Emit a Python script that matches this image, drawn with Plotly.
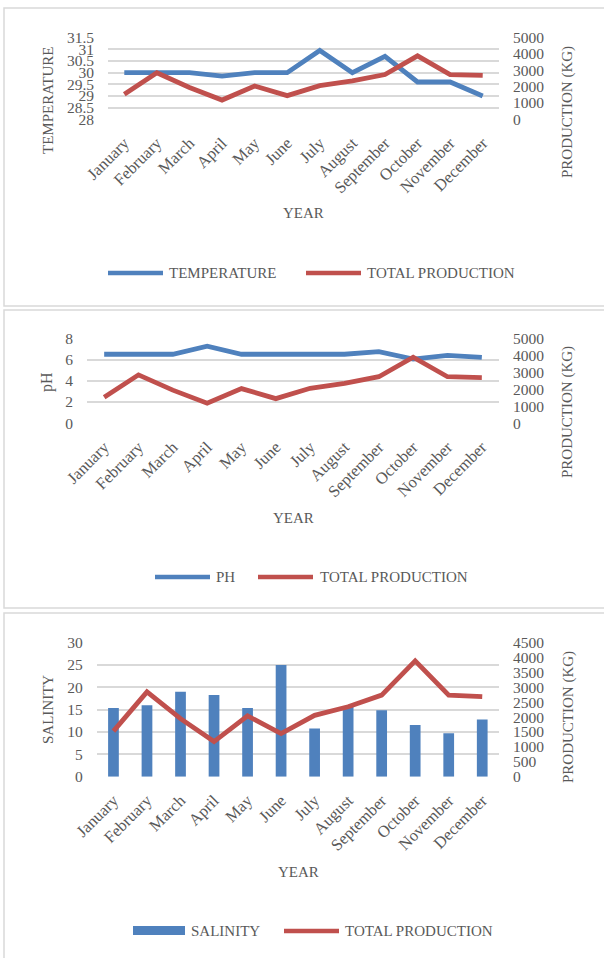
import plotly.graph_objects as go

# ---- data ----
months = ["January", "February", "March", "April", "May", "June", "July",
          "August", "September", "October", "November", "December"]
temperature = [30.0, 30.0, 30.0, 29.85, 30.0, 30.0, 30.95, 30.0, 30.7, 29.6, 29.6, 29.0]
ph = [6.5, 6.5, 6.5, 7.25, 6.5, 6.5, 6.45, 6.5, 6.75, 6.05, 6.4, 6.2]
salinity = [15.4, 16.0, 19.0, 18.3, 15.4, 25.0, 10.8, 15.6, 14.9, 11.6, 9.7, 12.8]
production = [1530, 2850, 1950, 1180, 2040, 1450, 2060, 2350, 2740, 3890, 2740, 2690]

W, H = 604, 958
BLUE = "#4F81BD"
RED = "#C0504D"
GRID = "#D9D9D9"
TXT = "#595959"
FONT = "Liberation Serif"


def px(x):
    return x / W


def py(y):
    return 1 - y / H


fig = go.Figure()

# Panel 1: temperature vs production
fig.add_trace(go.Scatter(x=months, y=temperature, mode="lines", name="TEMPERATURE",
                         line=dict(color=BLUE, width=4.8), xaxis="x", yaxis="y"))
fig.add_trace(go.Scatter(x=months, y=production, mode="lines", name="TOTAL PRODUCTION",
                         line=dict(color=RED, width=4.8), xaxis="x", yaxis="y2"))
# Panel 2: pH vs production
fig.add_trace(go.Scatter(x=months, y=ph, mode="lines", name="PH",
                         line=dict(color=BLUE, width=4.8), xaxis="x2", yaxis="y3"))
fig.add_trace(go.Scatter(x=months, y=production, mode="lines", name="TOTAL PRODUCTION",
                         line=dict(color=RED, width=4.8), xaxis="x2", yaxis="y4"))
# Panel 3: salinity bars vs production
fig.add_trace(go.Bar(x=months, y=salinity, name="SALINITY", marker_color=BLUE,
                     marker_line_width=0, xaxis="x3", yaxis="y5"))
fig.add_trace(go.Scatter(x=months, y=production, mode="lines", name="TOTAL PRODUCTION",
                         line=dict(color=RED, width=4.8), xaxis="x3", yaxis="y6"))

ytickfont = dict(family=FONT, size=15.5, color=TXT)
xtickfont = dict(family=FONT, size=16.5, color=TXT)


def xax(x0, x1, anchor):
    return dict(domain=[px(x0), px(x1)], anchor=anchor, type="category",
                range=[-0.5, 11.5], tickangle=-45, showgrid=False, showline=False,
                zeroline=False, ticks="", tickfont=xtickfont, ticklabelstandoff=10,
                automargin=False)


def yleft(y0, y1, anchor, rng, dtick):
    return dict(domain=[py(y1), py(y0)], anchor=anchor, range=rng, dtick=dtick,
                showgrid=True, gridcolor=GRID, gridwidth=1.8, zeroline=False,
                showline=False, ticks="", tickfont=ytickfont, ticklabelstandoff=13,
                automargin=False)


def yright(base, anchor, rng, dtick):
    return dict(overlaying=base, side="right", anchor=anchor, range=rng, dtick=dtick,
                showgrid=False, zeroline=False, showline=False, ticks="",
                tickfont=ytickfont, ticklabelstandoff=13, automargin=False)


layout = dict(
    width=W, height=H, autosize=False, margin=dict(l=0, r=0, t=0, b=0, pad=0),
    paper_bgcolor="white", plot_bgcolor="white", showlegend=False,
    bargap=0.68,
    xaxis=xax(108, 499, "y"),
    yaxis=yleft(37.7, 119.3, "x", [28, 31.5], 0.5),
    yaxis2=yright("y", "x", [0, 5000], 1000),
    xaxis2=xax(87, 499, "y3"),
    yaxis3=yleft(338.3, 423.3, "x2", [0, 8], 2),
    yaxis4=yright("y3", "x2", [0, 5000], 1000),
    xaxis3=xax(96.7, 499, "y5"),
    yaxis5=yleft(642.7, 776.7, "x3", [0, 30], 5),
    yaxis6=yright("y5", "x3", [0, 4500], 500),
)
fig.update_layout(**layout)

shapes = []
annotations = []

# panel frames
for top, bottom in [(8, 306), (310, 608), (613, 975)]:
    shapes.append(dict(type="rect", xref="paper", yref="paper",
                       x0=px(4), x1=px(640), y0=py(bottom), y1=py(top),
                       line=dict(color=GRID, width=1.5), fillcolor="rgba(0,0,0,0)",
                       layer="below"))


def text(x, y, s, angle=0, xanchor="center", size=15):
    annotations.append(dict(x=px(x), y=py(y), xref="paper", yref="paper", text=s,
                            showarrow=False, textangle=angle, xanchor=xanchor,
                            yanchor="middle", font=dict(family=FONT, size=size, color=TXT)))


# axis titles
text(48, 100, "TEMPERATURE", -90)
text(568, 112, "PRODUCTION (KG)", -90)
text(303, 213, "YEAR")
text(47, 382, "pH", -90, size=16)
text(567, 412, "PRODUCTION (KG)", -90)
text(293, 518, "YEAR")
text(48, 710, "SALINITY", -90)
text(568, 717, "PRODUCTION (KG)", -90)
text(298, 872, "YEAR")


def legend_line(x0, x1, y, color):
    shapes.append(dict(type="line", xref="paper", yref="paper", x0=px(x0), x1=px(x1),
                       y0=py(y), y1=py(y), line=dict(color=color, width=4.5)))


# legends
legend_line(108, 163, 273, BLUE)
text(167, 273, "TEMPERATURE", xanchor="left")
legend_line(306, 361, 273, RED)
text(365, 273, "TOTAL PRODUCTION", xanchor="left")

legend_line(155, 210, 577, BLUE)
text(214, 577, "PH", xanchor="left")
legend_line(258, 313, 577, RED)
text(318, 577, "TOTAL PRODUCTION", xanchor="left")

shapes.append(dict(type="rect", xref="paper", yref="paper", x0=px(133), x1=px(185),
                   y0=py(935), y1=py(926), line=dict(width=0), fillcolor=BLUE))
text(189, 931, "SALINITY", xanchor="left")
legend_line(284, 339, 931, RED)
text(343, 931, "TOTAL PRODUCTION", xanchor="left")

fig.update_layout(shapes=shapes, annotations=annotations)

fig.write_html("out.html")
